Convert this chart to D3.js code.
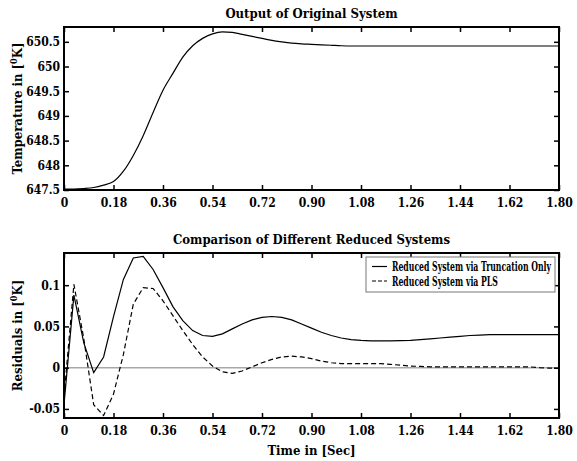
<!DOCTYPE html>
<html>
<head>
<meta charset="utf-8">
<script src="https://cdn.jsdelivr.net/npm/d3@7"></script>
<style>
  body { margin: 0; background: #fff; }
  svg, svg text { font-family: "DejaVu Serif Condensed", "DejaVu Serif", serif; font-stretch: condensed; font-weight: bold; }
</style>
</head>
<body>
<svg width="577" height="461"></svg>
<script>
// time grid (sec), sampled every 0.036 s
const timeSec = d3.range(51).map(i => +(i * 0.036).toFixed(3));

// output of the original system [K]
const outputTemp = [
  647.52, 647.52, 647.53, 647.55, 647.60, 647.67, 647.88, 648.20, 648.60, 649.07,
  649.52, 649.86, 650.19, 650.42, 650.57, 650.66, 650.70, 650.69, 650.65, 650.61,
  650.57, 650.53, 650.50, 650.475, 650.46, 650.45, 650.44, 650.43, 650.42, 650.415,
  650.415, 650.415, 650.415, 650.415, 650.415, 650.415, 650.415, 650.415, 650.415, 650.415,
  650.415, 650.415, 650.415, 650.415, 650.415, 650.415, 650.415, 650.415, 650.415, 650.415,
  650.415
];

// residuals, reduced system via truncation only
const residTrunc = [
  -0.045, 0.088, 0.030, -0.006, 0.013, 0.062, 0.107, 0.133, 0.135, 0.119,
  0.097, 0.074, 0.057, 0.045, 0.039, 0.038, 0.041, 0.047, 0.053, 0.058,
  0.061, 0.062, 0.061, 0.058, 0.053, 0.048, 0.043, 0.039, 0.036, 0.034,
  0.033, 0.0325, 0.0325, 0.0325, 0.0327, 0.033, 0.034, 0.035, 0.036, 0.037,
  0.038, 0.039, 0.0395, 0.040, 0.040, 0.040, 0.040, 0.040, 0.040, 0.040,
  0.040
];

// residuals, reduced system via PLS
const residPLS = [
  -0.035, 0.101, 0.035, -0.045, -0.058, -0.032, 0.016, 0.077, 0.097, 0.096,
  0.081, 0.063, 0.045, 0.028, 0.013, 0.002, -0.005, -0.007, -0.004, 0.001,
  0.006, 0.010, 0.013, 0.014, 0.013, 0.011, 0.008, 0.006, 0.005, 0.005,
  0.005, 0.005, 0.005, 0.004, 0.003, 0.002, 0.0015, 0.001, 0.001, 0.001,
  0.001, 0.001, 0.001, 0.001, 0.001, 0.001, 0.001, 0.001, 0.0, -0.0005,
  -0.001
];

const xTicks = [0, 0.18, 0.36, 0.54, 0.72, 0.90, 1.08, 1.26, 1.44, 1.62, 1.80];
const topYTicks = [647.5, 648, 648.5, 649, 649.5, 650, 650.5];
const botYTicks = [-0.05, 0, 0.05, 0.1];
const legendLabels = ["Reduced System via Truncation Only", "Reduced System via PLS"];

const FONT = "'DejaVu Serif Condensed', 'DejaVu Serif', serif";
const svg = d3.select("svg");
const left = 64, right = 559;

const x = d3.scaleLinear().domain([0, 1.8]).range([left, right]);
const yTop = d3.scaleLinear().domain([647.5, 650.8]).range([190, 27]);
const yBot = d3.scaleLinear().domain([-0.061, 0.139]).range([418, 253]);

function drawPanel(y, yTicks, yFmt, title, ylabel) {
  const [y0, y1] = y.range();
  const g = svg.append("g");

  // ticks inward on all four sides
  g.append("g")
    .attr("transform", `translate(0,${y0})`)
    .call(d3.axisBottom(x).tickValues(xTicks).tickSize(-5).tickPadding(8)
      .tickFormat(d => d === 0 ? "0" : d3.format(".2f")(d)));
  g.append("g")
    .attr("transform", `translate(0,${y1})`)
    .call(d3.axisTop(x).tickValues(xTicks).tickSize(-5).tickFormat(""));
  g.append("g")
    .attr("transform", `translate(${left},0)`)
    .call(d3.axisLeft(y).tickValues(yTicks).tickSize(-5).tickPadding(4).tickFormat(yFmt));
  g.append("g")
    .attr("transform", `translate(${right},0)`)
    .call(d3.axisRight(y).tickValues(yTicks).tickSize(-5).tickFormat(""));

  g.selectAll(".domain").remove();
  g.selectAll("g").attr("font-family", FONT);
  g.selectAll(".tick line").attr("stroke", "#000").attr("stroke-width", 1.5);
  g.selectAll(".tick text")
    .attr("fill", "#000")
    .attr("font-family", FONT)
    .attr("font-weight", "bold")
    .attr("font-size", 12);

  g.append("rect")
    .attr("x", left).attr("y", y1)
    .attr("width", right - left).attr("height", y0 - y1)
    .attr("fill", "none").attr("stroke", "#000").attr("stroke-width", 2);

  svg.append("text")
    .attr("x", (left + right) / 2).attr("y", y1 - 9)
    .attr("text-anchor", "middle")
    .attr("font-family", FONT)
    .style("font-size", "13px")
    .text(title);

  const yl = svg.append("text")
    .attr("transform", `translate(22,${(y0 + y1) / 2}) rotate(-90)`)
    .attr("text-anchor", "middle")
    .attr("font-family", FONT)
    .style("font-size", "13px");
  yl.append("tspan").text(ylabel + " [");
  yl.append("tspan").attr("dy", -5).style("font-size", "9px").text("0");
  yl.append("tspan").attr("dy", 5).text("K]");
}

// top panel
drawPanel(yTop, topYTicks, d => String(d), "Output of Original System", "Temperature in");

svg.append("path")
  .datum(timeSec.map((t, i) => [t, outputTemp[i]]))
  .attr("fill", "none")
  .attr("stroke", "#000")
  .attr("stroke-width", 1.2)
  .attr("d", d3.line().x(d => x(d[0])).y(d => yTop(d[1])).curve(d3.curveMonotoneX));

// bottom panel
svg.append("line")
  .attr("x1", left).attr("x2", right)
  .attr("y1", yBot(0)).attr("y2", yBot(0))
  .attr("stroke", "#a8a8a8").attr("stroke-width", 1.5);

drawPanel(yBot, botYTicks, d => String(d),
  "Comparison of Different Reduced Systems", "Residuals in");

const resLine = d3.line().x(d => x(d[0])).y(d => yBot(d[1]));

svg.append("path")
  .datum(timeSec.map((t, i) => [t, residTrunc[i]]))
  .attr("fill", "none").attr("stroke", "#000").attr("stroke-width", 1.2)
  .attr("d", resLine);

svg.append("path")
  .datum(timeSec.map((t, i) => [t, residPLS[i]]))
  .attr("fill", "none").attr("stroke", "#000").attr("stroke-width", 1.2)
  .attr("stroke-dasharray", "5,3")
  .attr("d", resLine);

// legend
const legend = svg.append("g");
legend.append("rect")
  .attr("x", 366).attr("y", 257).attr("width", 189).attr("height", 35)
  .attr("fill", "#fff").attr("stroke", "#777").attr("stroke-width", 1);
const legTexts = legendLabels.map((lab, i) => {
  const yy = 266.5 + i * 14.5;
  legend.append("line")
    .attr("x1", 372).attr("x2", 387).attr("y1", yy).attr("y2", yy)
    .attr("stroke", "#000").attr("stroke-width", 1.2)
    .attr("stroke-dasharray", i === 1 ? "4,2" : null);
  return legend.append("text")
    .attr("x", 392).attr("y", yy + 4.5)
    .attr("font-family", FONT)
    .style("font-size", "12px")
    .text(lab);
});
// compress both legend entries by the same horizontal factor if the longest one overflows the box
const maxW = 159;
const longest = d3.max(legTexts, t => t.node().getComputedTextLength());
if (longest > maxW) {
  const k = maxW / longest;
  legTexts.forEach(t => {
    const w = t.node().getComputedTextLength();
    t.attr("textLength", (w * k).toFixed(1)).attr("lengthAdjust", "spacingAndGlyphs");
  });
}

svg.append("text")
  .attr("x", (left + right) / 2).attr("y", 455)
  .attr("text-anchor", "middle")
  .attr("font-family", FONT)
  .style("font-size", "13px")
  .text("Time in [Sec]");
</script>
</body>
</html>
